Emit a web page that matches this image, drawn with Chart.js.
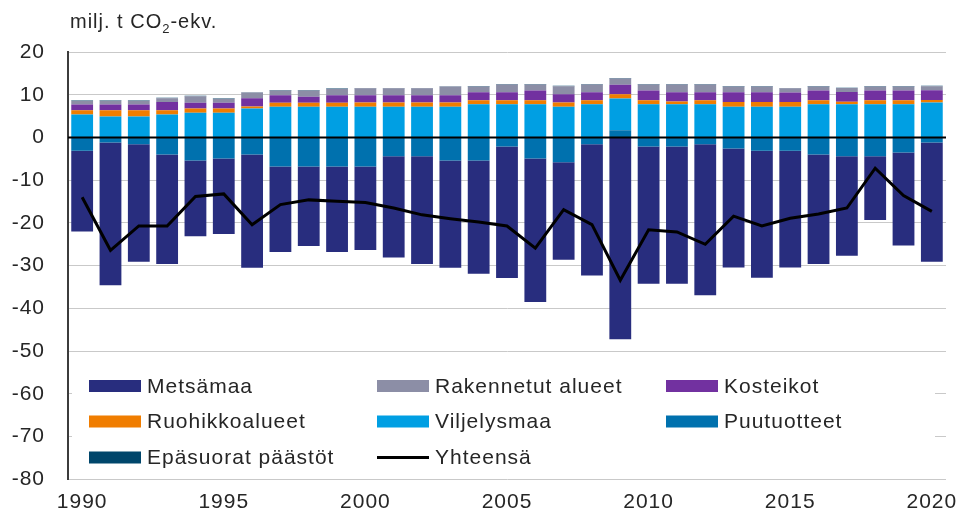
<!DOCTYPE html>
<html lang="fi">
<head>
    <title>LULUCF-sektorin päästöt ja poistumat</title>
    <meta charset="utf-8">
    <script src="https://cdn.jsdelivr.net/npm/chart.js@4"></script>
    <style>
        body { margin: 0; background: #fff; }
        canvas { display: block; }
    </style>
</head>
<body>
    <canvas id="lulucfChart" width="961" height="515"></canvas>

    <script>
        // Years on the x axis
        var years = [
            1990, 1991, 1992, 1993, 1994, 1995, 1996, 1997, 1998, 1999,
            2000, 2001, 2002, 2003, 2004, 2005, 2006, 2007, 2008, 2009,
            2010, 2011, 2012, 2013, 2014, 2015, 2016, 2017, 2018, 2019, 2020
        ];

        // milj. t CO2-ekv.
        var metsamaa = [
            -18.9, -33.4, -27.5, -25.6, -17.7, -17.7, -26.5, -20.0, -18.6, -20.0,
            -19.5, -23.7, -25.2, -25.1, -26.5, -30.8, -33.6, -22.8, -30.7, -47.2,
            -32.1, -32.1, -35.3, -27.8, -29.7, -27.3, -25.6, -23.3, -14.9, -21.8, -27.9
        ];
        var puutuotteet = [
            -3.1, -1.2, -1.6, -4.0, -5.4, -4.9, -4.0, -6.8, -6.8, -6.8,
            -6.8, -4.4, -4.4, -5.4, -5.4, -2.1, -4.9, -5.8, -1.6, 1.7,
            -2.1, -2.1, -1.6, -2.6, -3.1, -3.1, -4.0, -4.4, -4.4, -3.5, -1.2
        ];
        var viljelysmaa = [
            5.4, 4.9, 4.9, 5.4, 5.8, 5.8, 6.8, 7.2, 7.2, 7.2,
            7.2, 7.2, 7.2, 7.2, 7.8, 7.8, 7.8, 7.2, 7.8, 7.4,
            7.8, 7.8, 7.8, 7.2, 7.2, 7.2, 7.8, 7.8, 7.8, 7.8, 8.2
        ];
        var ruohikkoalueet = [
            1.0, 1.5, 1.5, 1.0, 1.0, 1.0, 0.45, 0.95, 0.95, 0.95,
            1.0, 1.0, 1.0, 1.0, 0.9, 0.9, 0.9, 1.0, 0.9, 1.0,
            0.9, 0.6, 0.9, 1.1, 1.1, 1.1, 0.9, 0.55, 0.9, 0.9, 0.55
        ];
        var kosteikot = [
            1.3, 1.3, 1.3, 1.9, 1.3, 1.3, 1.95, 1.75, 1.4, 1.75,
            1.7, 1.7, 1.7, 1.7, 1.9, 1.9, 2.3, 1.9, 1.9, 2.25,
            2.3, 2.2, 1.9, 2.3, 2.3, 2.2, 2.3, 2.3, 2.3, 2.3, 2.3
        ];
        var rakennetut = [
            0.9, 0.9, 0.9, 0.9, 1.55, 0.95, 1.3, 1.1, 1.45, 1.5,
            1.6, 1.6, 1.6, 2.0, 1.35, 1.8, 1.4, 1.9, 1.8, 1.45,
            1.4, 1.8, 1.8, 1.35, 1.35, 1.0, 0.95, 0.9, 0.95, 0.95, 0.95
        ];
        var epasuorat = [
            0.1, 0.1, 0.1, 0.1, 0.1, 0.1, 0.1, 0.1, 0.1, 0.1,
            0.1, 0.1, 0.1, 0.1, 0.1, 0.1, 0.1, 0.1, 0.1, 0.1,
            0.1, 0.1, 0.1, 0.1, 0.1, 0.1, 0.1, 0.1, 0.1, 0.1, 0.1
        ];
        var yhteensa = [
            -14.0, -26.4, -20.7, -20.7, -13.8, -13.2, -20.4, -15.7, -14.6, -14.9,
            -15.2, -16.5, -18.1, -19.0, -19.8, -20.7, -25.9, -16.9, -20.4, -33.4,
            -21.6, -22.1, -25.0, -18.4, -20.7, -18.9, -17.9, -16.5, -7.2, -13.6, -17.3
        ];

        var yTicksMin = -80;
        var yTicksMax = 20;
        var yTicksStep = 10;

        var fontFamily = "'Liberation Sans', Arial, sans-serif";
        var textColor = '#262626';

        // legend reading order, three per row
        var legendOrder = [
            'Metsämaa', 'Rakennetut alueet', 'Kosteikot',
            'Ruohikkoalueet', 'Viljelysmaa', 'Puutuotteet',
            'Epäsuorat päästöt', 'Yhteensä'
        ];

        // draws the unit title, the zero line and the boxed legend
        var decorations = {
            id: 'decorations',
            beforeDraw: function (chart) {
                chart.ctx.letterSpacing = '1px';
            },
            afterDatasetsDraw: function (chart) {
                var ctx = chart.ctx;
                var area = chart.chartArea;
                var y0 = chart.scales.y.getPixelForValue(0);
                ctx.save();
                ctx.strokeStyle = '#000';
                ctx.lineWidth = 2;
                ctx.beginPath();
                ctx.moveTo(area.left, y0);
                ctx.lineTo(area.right, y0);
                ctx.stroke();
                ctx.restore();
            },
            afterDraw: function (chart) {
                var ctx = chart.ctx;
                ctx.save();
                ctx.letterSpacing = '1px';

                // unit title
                ctx.fillStyle = textColor;
                ctx.textBaseline = 'alphabetic';
                ctx.textAlign = 'left';
                ctx.font = '20px ' + fontFamily;
                var tx = 70;
                ctx.fillText('milj. t CO', tx, 28);
                tx += ctx.measureText('milj. t CO').width;
                ctx.font = '13px ' + fontFamily;
                ctx.fillText('2', tx, 33);
                tx += ctx.measureText('2').width;
                ctx.font = '20px ' + fontFamily;
                ctx.fillText('-ekv.', tx, 28);

                // legend box
                ctx.fillStyle = '#fff';
                ctx.fillRect(72, 359, 863, 119);

                var colX = [89, 377, 666];
                var rowY = [386, 421.5, 457.5];
                ctx.font = '21px ' + fontFamily;
                ctx.textBaseline = 'middle';
                legendOrder.forEach(function (label, i) {
                    var ds = chart.data.datasets.find(function (d) { return d.label === label; });
                    var x = colX[i % 3];
                    var y = rowY[Math.floor(i / 3)];
                    if (ds.type === 'line') {
                        ctx.strokeStyle = ds.borderColor;
                        ctx.lineWidth = 3;
                        ctx.beginPath();
                        ctx.moveTo(x, y);
                        ctx.lineTo(x + 52, y);
                        ctx.stroke();
                    } else {
                        ctx.fillStyle = ds.backgroundColor;
                        ctx.fillRect(x, y - 6, 52, 12);
                    }
                    ctx.fillStyle = textColor;
                    ctx.fillText(label, x + 58, y + 1);
                });
                ctx.restore();
                chart.ctx.letterSpacing = '0px';
            }
        };

        function barSet(label, data, color) {
            return {
                type: 'bar',
                label: label,
                data: data,
                backgroundColor: color,
                borderWidth: 0,
                categoryPercentage: 1,
                barPercentage: 0.77
            };
        }

        var ctx = document.getElementById('lulucfChart').getContext('2d');
        var lulucfChart = new Chart(ctx, {
            data: {
                labels: years.map(String),
                datasets: [
                    // stacking goes outward from zero in this order
                    barSet('Puutuotteet', puutuotteet, '#0071AE'),
                    barSet('Metsämaa', metsamaa, '#282D7E'),
                    barSet('Viljelysmaa', viljelysmaa, '#009FE3'),
                    barSet('Ruohikkoalueet', ruohikkoalueet, '#F07D00'),
                    barSet('Kosteikot', kosteikot, '#7231A0'),
                    barSet('Rakennetut alueet', rakennetut, '#8C8EA6'),
                    barSet('Epäsuorat päästöt', epasuorat, '#00466B'),
                    {
                        type: 'line',
                        label: 'Yhteensä',
                        data: yhteensa,
                        stack: 'total',
                        borderColor: '#000',
                        borderWidth: 3,
                        pointRadius: 0,
                        tension: 0,
                        order: -1
                    }
                ]
            },
            options: {
                responsive: false,
                animation: false,
                layout: {
                    padding: { top: 52, right: 15, left: 0, bottom: 0 }
                },
                plugins: {
                    legend: { display: false },
                    title: { display: false },
                    tooltip: { enabled: false }
                },
                scales: {
                    x: {
                        stacked: true,
                        grid: { display: false },
                        border: { display: false },
                        ticks: {
                            autoSkip: false,
                            maxRotation: 0,
                            padding: 2,
                            color: textColor,
                            font: { family: fontFamily, size: 21 },
                            callback: function (value, index) {
                                return years[index] % 5 === 0 ? String(years[index]) : '';
                            }
                        },
                        afterFit: function (scale) { scale.height = 33; }
                    },
                    y: {
                        stacked: true,
                        min: yTicksMin,
                        max: yTicksMax,
                        grid: {
                            color: '#c9c9c9',
                            lineWidth: 1,
                            drawTicks: false
                        },
                        border: { color: '#3c3c3c', width: 2 },
                        ticks: {
                            stepSize: yTicksStep,
                            padding: 23,
                            color: textColor,
                            font: { family: fontFamily, size: 21 }
                        },
                        afterFit: function (scale) { scale.width = 68; }
                    }
                }
            },
            plugins: [decorations]
        });
    </script>
</body>
</html>
